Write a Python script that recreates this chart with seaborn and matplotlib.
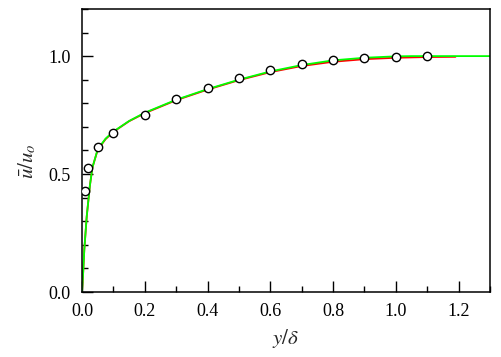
import numpy as np
import pandas as pd
import matplotlib
matplotlib.use("Agg")
import matplotlib.pyplot as plt
from matplotlib.ticker import MultipleLocator, FormatStrFormatter
import seaborn as sns

# measured velocity profile (open circles)
y_meas = [0.01, 0.018, 0.05, 0.1, 0.2, 0.3, 0.4, 0.5, 0.6, 0.7, 0.8, 0.9, 1.0, 1.1]
u_meas = [0.43, 0.525, 0.613, 0.676, 0.752, 0.817, 0.864, 0.907, 0.940, 0.967, 0.983, 0.990, 0.996, 1.000]

# model curve 1 (red)
y_red = [0.0, 0.003, 0.0073, 0.015, 0.025, 0.033, 0.05, 0.075, 0.1, 0.15, 0.2, 0.3, 0.4,
         0.5, 0.6, 0.7, 0.8, 0.9, 1.0, 1.1, 1.19]
u_red = [0.0, 0.065, 0.18, 0.32, 0.45, 0.527, 0.603, 0.648, 0.679, 0.724, 0.758, 0.813, 0.858,
         0.898, 0.932, 0.958, 0.976, 0.987, 0.993, 0.996, 0.997]

# model curve 2 (green)
y_green = [0.0, 0.003, 0.0073, 0.015, 0.025, 0.033, 0.05, 0.075, 0.1, 0.15, 0.2, 0.3, 0.4,
           0.5, 0.6, 0.7, 0.8, 0.9, 1.0, 1.05, 1.3]
u_green = [0.0, 0.065, 0.18, 0.32, 0.45, 0.527, 0.605, 0.65, 0.68, 0.725, 0.76, 0.815, 0.86,
           0.90, 0.935, 0.962, 0.982, 0.993, 0.999, 1.0, 1.0]

sns.set_style("ticks")
plt.rcParams["font.family"] = ["Liberation Serif", "DejaVu Serif"]
plt.rcParams["mathtext.fontset"] = "stix"

fig = plt.figure(figsize=(5.01, 3.57), dpi=100)
ax = fig.add_axes([0.1637, 0.182, 0.8143, 0.793])

sns.lineplot(x=y_red, y=u_red, color="#ff0000", lw=1.3, ax=ax, sort=False)
sns.lineplot(x=y_green, y=u_green, color="#00ff00", lw=1.3, ax=ax, sort=False)
sns.scatterplot(x=y_meas, y=u_meas, marker="o", s=36, facecolor="white",
                edgecolor="black", linewidth=1.0, ax=ax, zorder=5)

ax.set_xlim(0, 1.3)
ax.set_ylim(0, 1.2)
ax.xaxis.set_major_locator(MultipleLocator(0.2))
ax.xaxis.set_minor_locator(MultipleLocator(0.1))
ax.yaxis.set_major_locator(MultipleLocator(0.5))
ax.yaxis.set_minor_locator(MultipleLocator(0.1))
ax.xaxis.set_major_formatter(FormatStrFormatter("%.1f"))
ax.yaxis.set_major_formatter(FormatStrFormatter("%.1f"))
ax.tick_params(which="both", direction="in", top=False, right=False, colors="black")
ax.tick_params(which="major", length=8, width=1.0, labelsize=13, pad=8)
ax.tick_params(which="minor", length=4, width=1.0)
for s in ax.spines.values():
    s.set_visible(True)
    s.set_linewidth(1.1)
    s.set_color("black")

ax.set_xlabel(r"$y/\delta$", fontsize=15)
ax.set_ylabel(r"$\bar{u}/u_o$", fontsize=15)
ax.xaxis.set_label_coords(0.5, -0.125)
ax.yaxis.set_label_coords(-0.108, 0.463)

fig.savefig("out.png", dpi=100)
